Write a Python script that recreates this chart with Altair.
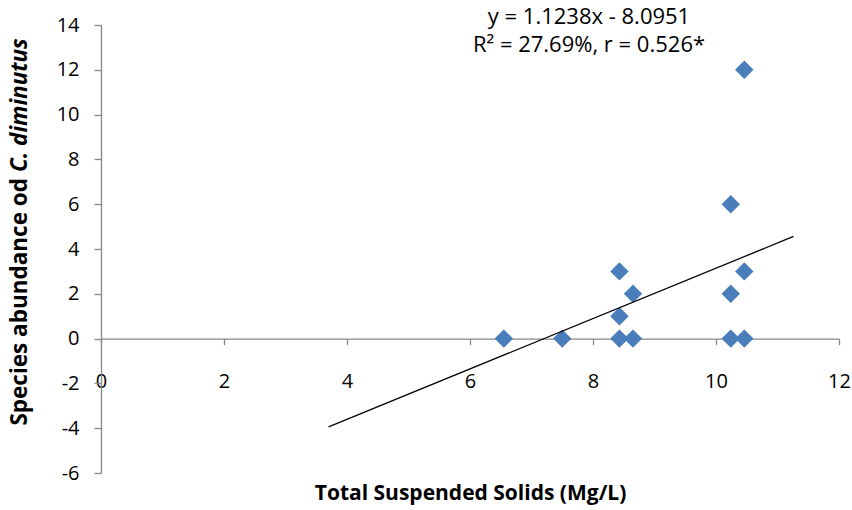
import altair as alt
import pandas as pd

# Data
tss = [6.55, 7.5, 8.43, 8.43, 8.43, 8.65, 8.65, 10.24, 10.24, 10.24, 10.46, 10.46, 10.46]
abundance = [0, 0, 0, 1, 3, 0, 2, 0, 2, 6, 0, 3, 12]

trend_x = [3.70, 11.26]
trend_y = [-3.94, 4.56]

eq_lines = ["y = 1.1238x - 8.0951", "R\u00b2 = 27.69%, r = 0.526*"]

x_ticks = [0, 2, 4, 6, 8, 10, 12]
y_ticks = [-6, -4, -2, 0, 2, 4, 6, 8, 10, 12, 14]

W, H = 738, 448
FONT = "Open Sans"
AXIS_GRAY = "#878787"

pts = pd.DataFrame({"tss": tss, "abund": abundance})
trend = pd.DataFrame({"tss": trend_x, "abund": trend_y})
eq = pd.DataFrame({"text": eq_lines, "px": [488, 488], "py": [-8, 20]})

xscale = alt.Scale(domain=[0, 12], nice=False, zero=False)
yscale = alt.Scale(domain=[-6, 14], nice=False, zero=False)

y_zero_from_bottom = H * (0 - (-6)) / 20.0

xaxis = alt.Axis(
    values=x_ticks, offset=-y_zero_from_bottom, grid=False,
    labelExpr="'' + datum.value",
    domainColor=AXIS_GRAY, domainWidth=1.3, tickColor=AXIS_GRAY, tickWidth=1.3,
    tickSize=6, labelPadding=27, labelFlush=False, labelOverlap=False,
    labelFont=FONT, labelFontSize=20, labelColor="#000000",
    title="Total Suspended Solids (Mg/L)", titleFont=FONT, titleFontSize=21,
    titleFontWeight="bold", titleColor="#000000", titleY=155, titleBaseline="middle",
)
yaxis = alt.Axis(
    values=y_ticks, grid=False,
    labelExpr="'' + datum.value",
    domainColor=AXIS_GRAY, domainWidth=1.3, tickColor=AXIS_GRAY, tickWidth=1.3,
    tickSize=7, labelPadding=15, labelOverlap=False, labelFlush=False,
    labelFont=FONT, labelFontSize=20, labelColor="#000000", title=None,
)

points = alt.Chart(pts).mark_point(
    shape="diamond", filled=True, size=340, color="#4a7ebb", opacity=1
).encode(
    x=alt.X("tss:Q", scale=xscale, axis=xaxis),
    y=alt.Y("abund:Q", scale=yscale, axis=yaxis),
)

line = alt.Chart(trend).mark_line(color="#000000", strokeWidth=1.3).encode(
    x=alt.X("tss:Q", scale=xscale),
    y=alt.Y("abund:Q", scale=yscale),
)

eq_text = alt.Chart(eq).mark_text(
    font=FONT, fontSize=22, color="#000000", align="center", baseline="middle"
).encode(
    x=alt.X("px:Q", scale=None),
    y=alt.Y("py:Q", scale=None),
    text="text:N",
)

ytitle_a = alt.Chart(pd.DataFrame({"t": ["Species abundance od"]})).mark_text(
    font=FONT, fontSize=22.5, fontWeight="bold", color="#000000",
    angle=270, align="right", baseline="middle",
).encode(x=alt.value(-81), y=alt.value(153), text="t:N")

ytitle_b = alt.Chart(pd.DataFrame({"t": ["C. diminutus"]})).mark_text(
    font=FONT, fontSize=22.5, fontWeight="bold", fontStyle="italic", color="#000000",
    angle=270, align="left", baseline="middle",
).encode(x=alt.value(-81), y=alt.value(147), text="t:N")

chart = alt.layer(points, line, eq_text, ytitle_a, ytitle_b).properties(
    width=W, height=H,
    autosize=alt.AutoSizeParams(type="none"),
    padding={"left": 101, "top": 25, "right": 13, "bottom": 37},
    background="#ffffff",
).configure_view(stroke=None)

chart.save("out.html", embed_options={"renderer": "svg", "actions": False})
